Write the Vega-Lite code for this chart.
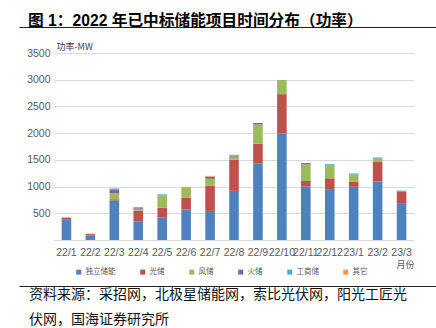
{
  "$schema": "https://vega.github.io/schema/vega-lite/v6.json",
  "padding": {"left": 18, "top": 12, "right": 0, "bottom": 0},
  "background": "#ffffff",
  "config": {
    "view": {"stroke": null},
    "font": "Noto Sans CJK SC"
  },
  "spacing": 8,
  "resolve": {"legend": {"color": "independent"}},
  "datasets": {
    "d": [
      {"m": "22/1", "type": "独立储能", "v": 390}, {"m": "22/1", "type": "光储", "v": 30},
      {"m": "22/2", "type": "独立储能", "v": 80}, {"m": "22/2", "type": "光储", "v": 30}, {"m": "22/2", "type": "其它", "v": 10},
      {"m": "22/3", "type": "独立储能", "v": 740}, {"m": "22/3", "type": "光储", "v": 25}, {"m": "22/3", "type": "风储", "v": 115}, {"m": "22/3", "type": "火储", "v": 65}, {"m": "22/3", "type": "工商储", "v": 20},
      {"m": "22/4", "type": "独立储能", "v": 350}, {"m": "22/4", "type": "光储", "v": 200}, {"m": "22/4", "type": "风储", "v": 35}, {"m": "22/4", "type": "火储", "v": 25},
      {"m": "22/5", "type": "独立储能", "v": 420}, {"m": "22/5", "type": "光储", "v": 185}, {"m": "22/5", "type": "风储", "v": 230}, {"m": "22/5", "type": "工商储", "v": 20},
      {"m": "22/6", "type": "独立储能", "v": 570}, {"m": "22/6", "type": "光储", "v": 220}, {"m": "22/6", "type": "风储", "v": 195}, {"m": "22/6", "type": "其它", "v": 12},
      {"m": "22/7", "type": "独立储能", "v": 545}, {"m": "22/7", "type": "光储", "v": 470}, {"m": "22/7", "type": "风储", "v": 130}, {"m": "22/7", "type": "火储", "v": 40}, {"m": "22/7", "type": "其它", "v": 15},
      {"m": "22/8", "type": "独立储能", "v": 920}, {"m": "22/8", "type": "光储", "v": 585}, {"m": "22/8", "type": "风储", "v": 55}, {"m": "22/8", "type": "火储", "v": 20}, {"m": "22/8", "type": "工商储", "v": 15},
      {"m": "22/9", "type": "独立储能", "v": 1430}, {"m": "22/9", "type": "光储", "v": 375}, {"m": "22/9", "type": "风储", "v": 355}, {"m": "22/9", "type": "火储", "v": 30},
      {"m": "22/10", "type": "独立储能", "v": 1995}, {"m": "22/10", "type": "光储", "v": 735}, {"m": "22/10", "type": "风储", "v": 265},
      {"m": "22/11", "type": "独立储能", "v": 1000}, {"m": "22/11", "type": "光储", "v": 105}, {"m": "22/11", "type": "风储", "v": 310}, {"m": "22/11", "type": "火储", "v": 25},
      {"m": "22/12", "type": "独立储能", "v": 940}, {"m": "22/12", "type": "光储", "v": 215}, {"m": "22/12", "type": "风储", "v": 245}, {"m": "22/12", "type": "工商储", "v": 20},
      {"m": "23/1", "type": "独立储能", "v": 995}, {"m": "23/1", "type": "光储", "v": 95}, {"m": "23/1", "type": "风储", "v": 135}, {"m": "23/1", "type": "工商储", "v": 20},
      {"m": "23/2", "type": "独立储能", "v": 1095}, {"m": "23/2", "type": "光储", "v": 375}, {"m": "23/2", "type": "风储", "v": 55}, {"m": "23/2", "type": "工商储", "v": 20},
      {"m": "23/3", "type": "独立储能", "v": 690}, {"m": "23/3", "type": "光储", "v": 220}, {"m": "23/3", "type": "工商储", "v": 15}
    ]
  },
  "vconcat": [
    {
      "width": 383,
      "height": 4,
      "data": {"values": [{}]},
      "mark": {"type": "point", "opacity": 0},
      "encoding": {
        "y": {
          "datum": 0, "type": "quantitative",
          "scale": {"domain": [0, 1]},
          "axis": {"values": [1], "labels": false, "domain": false, "grid": false, "title": null,
                   "ticks": true, "tickSize": -418, "tickColor": "#222222", "tickWidth": 1, "offset": 35}
        }
      },
      "title": {
        "text": "图 1：2022 年已中标储能项目时间分布（功率）",
        "anchor": "start",
        "frame": "group",
        "dx": -26,
        "fontSize": 15.7,
        "fontWeight": "bold",
        "font": "Liberation Sans, Noto Sans CJK SC",
        "color": "#000000",
        "offset": -3
      }
    },
    {
      "width": 360,
      "height": 187,
      "data": {"name": "d"},
      "transform": [
        {"calculate": "indexof(['独立储能', '光储', '风储', '火储', '工商储', '其它'], datum.type)", "as": "k"}
      ],
      "mark": {"type": "bar"},
      "encoding": {
        "x": {
          "field": "m", "type": "ordinal", "sort": null,
          "scale": {"paddingInner": 0.6, "paddingOuter": 0.32},
          "axis": {
            "title": "月份", "labelAngle": 0, "ticks": false, "domain": false,
            "labelFont": "Liberation Sans Narrow, Liberation Sans", "labelFontSize": 10.5, "labelColor": "#595959", "labelPadding": 7,
            "titleAnchor": "end", "titleFont": "Noto Sans CJK SC", "titleFontSize": 9, "titleFontWeight": "normal", "titleColor": "#595959", "titlePadding": 3
          }
        },
        "y": {
          "field": "v", "type": "quantitative", "stack": "zero",
          "scale": {"domain": [0, 3500], "nice": false},
          "axis": {
            "values": [0, 500, 1000, 1500, 2000, 2500, 3000, 3500],
            "labelExpr": "datum.value == 0 ? '' : datum.label",
            "format": "d",
            "title": "功率-MW", "titleAngle": 0, "titleX": 2, "titleY": -7, "titleAlign": "left", "titleBaseline": "middle",
            "titleFont": "Noto Sans CJK SC", "titleFontSize": 9, "titleFontWeight": "normal", "titleColor": "#404040",
            "grid": true, "gridColor": "#d9d9d9", "gridWidth": 1, "domain": false, "ticks": false,
            "labelFont": "Liberation Sans Narrow, Liberation Sans", "labelFontSize": 10.5, "labelColor": "#595959", "labelPadding": 4
          }
        },
        "order": {"field": "k", "type": "quantitative", "sort": "ascending"},
        "color": {
          "field": "type", "type": "nominal",
          "sort": ["独立储能", "光储", "风储", "火储", "工商储", "其它"],
          "scale": {
            "domain": ["独立储能", "光储", "风储", "火储", "工商储", "其它"],
            "range": ["#4f81bd", "#c0504d", "#9bbb59", "#8064a2", "#4bacc6", "#f79646"]
          },
          "legend": {
            "orient": "none", "legendX": 21, "legendY": 215, "direction": "horizontal",
            "title": null, "padding": 0,
            "symbolType": "square", "symbolSize": 25, "symbolStrokeWidth": 0,
            "labelFont": "Noto Sans CJK SC", "labelFontSize": 7.5, "labelColor": "#595959", "labelOffset": 3,
            "columnPadding": 23
          }
        }
      }
    },
    {
      "width": 383,
      "height": 1,
      "data": {"values": [{}]},
      "mark": {"type": "point", "opacity": 0},
      "encoding": {
        "y": {
          "datum": 0, "type": "quantitative",
          "scale": {"domain": [0, 1]},
          "axis": {"values": [1], "labels": false, "domain": false, "grid": false, "title": null,
                   "ticks": true, "tickSize": -418, "tickColor": "#222222", "tickWidth": 1, "offset": 35}
        }
      },
      "title": {
        "text": ["资料来源：采招网，北极星储能网，索比光伏网，阳光工匠光", "伏网，国海证券研究所"],
        "orient": "bottom", "anchor": "start", "frame": "group", "dx": -25,
        "font": "Noto Sans CJK SC", "fontSize": 14, "fontWeight": "normal", "color": "#111111",
        "lineHeight": 25, "offset": -2
      }
    }
  ]
}
